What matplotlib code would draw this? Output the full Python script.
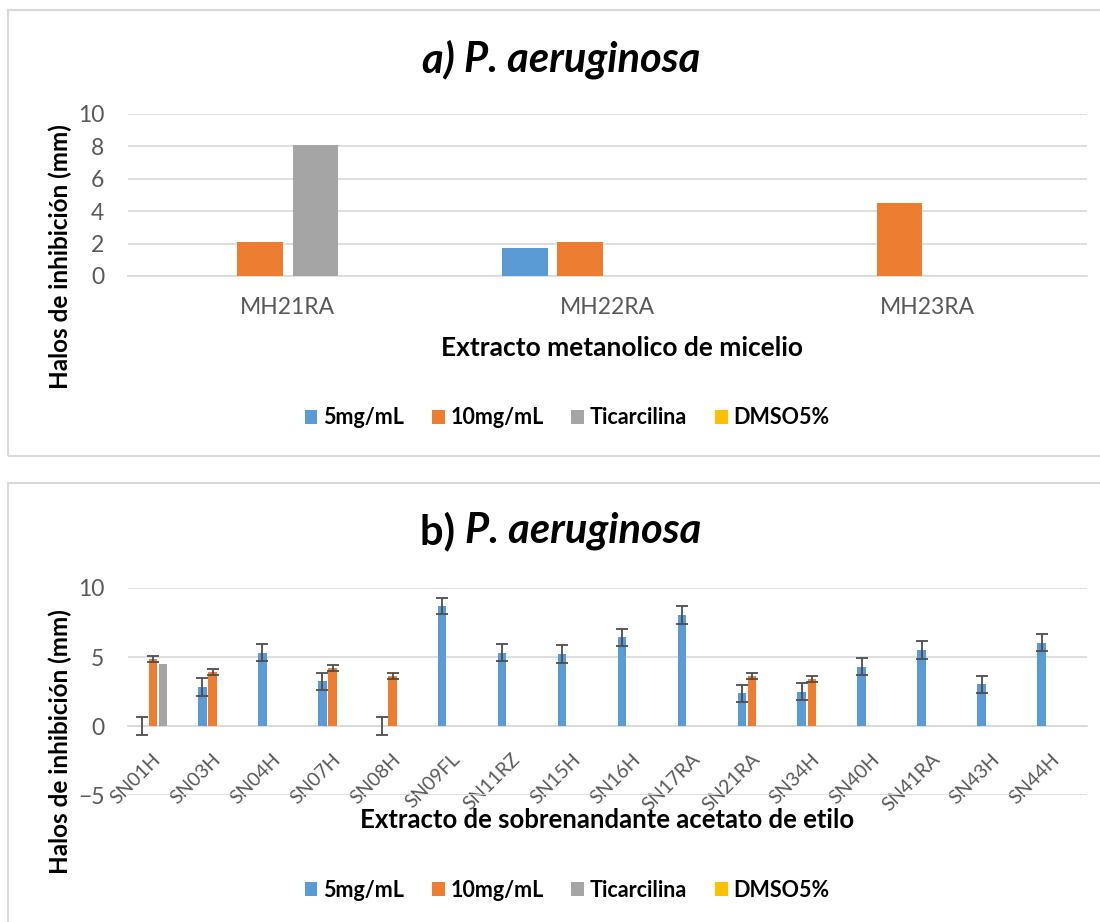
import numpy as np
import matplotlib
matplotlib.use("Agg")
import matplotlib.pyplot as plt
from matplotlib.patches import Rectangle, Patch

plt.rcParams['font.family'] = ['Lato', 'DejaVu Sans']

# --- data ---
series_names = ["5mg/mL", "10mg/mL", "Ticarcilina", "DMSO5%"]
colors = ["#5B9BD5", "#ED7D31", "#A5A5A5", "#FFC000"]

top_cats = ["MH21RA", "MH22RA", "MH23RA"]
top_5mg = [0, 1.75, 0]
top_10mg = [2.1, 2.1, 4.5]
top_tic = [8.1, 0, 0]
top_dmso = [0, 0, 0]

bot_cats = ["SN01H", "SN03H", "SN04H", "SN07H", "SN08H", "SN09FL", "SN11RZ", "SN15H",
            "SN16H", "SN17RA", "SN21RA", "SN34H", "SN40H", "SN41RA", "SN43H", "SN44H"]
bot_5mg = [0, 2.82, 5.32, 3.23, 0, 8.7, 5.32, 5.23, 6.43, 8.05, 2.36, 2.48, 4.31, 5.52, 3.01, 6.03]
bot_5mg_err = [0.63, 0.64, 0.64, 0.63, 0.63, 0.61, 0.64, 0.63, 0.63, 0.63, 0.63, 0.63, 0.63, 0.64, 0.64, 0.63]
bot_10mg = [4.85, 3.9, 0, 4.19, 3.64, 0, 0, 0, 0, 0, 3.64, 3.42, 0, 0, 0, 0]
bot_10mg_err = [0.2, 0.22, None, 0.22, 0.22, None, None, None, None, None, 0.22, 0.22, None, None, None, None]
bot_tic = [4.5, 0, 0, 0, 0, 0, 0, 0, 0, 0, 0, 0, 0, 0, 0, 0]
bot_dmso = [0] * 16

W, H = 1100, 922
fig = plt.figure(figsize=(W / 100, H / 100), dpi=100)

def fx(px):
    return px / W

def fy(py):
    return 1 - py / H

# panel borders
for y0, y1 in [(10, 456), (483, 940)]:
    fig.patches.append(Rectangle((fx(8), fy(y1)), fx(1110 - 8), (y1 - y0) / H,
                                 transform=fig.transFigure, fill=False,
                                 edgecolor="#D9D9D9", lw=1.5))

grid_c = "#D9D9D9"
tick_c = "#595959"
slot = 0.1725
bw = 0.143
tick_fs = 16.5
lab_fs = 19


def bar_panel(ax, cats, vals, errs=None):
    x = np.arange(len(cats))
    for i, v in enumerate(vals):
        xs = x + (i - 1.5) * slot
        ax.bar(xs, v, width=bw, color=colors[i], zorder=3)
        if errs is not None and errs[i] is not None:
            e = errs[i]
            keep = [j for j in range(len(cats)) if e[j] is not None]
            ax.errorbar(xs[keep], np.array(v)[keep], yerr=np.array([e[j] for j in keep]),
                        fmt="none", ecolor="#4D4D4D", elinewidth=1.3, capsize=4.5,
                        capthick=1.3, zorder=4)
    ax.set_xlim(-0.5, len(cats) - 0.5)
    ax.set_xticks(x)
    for s in ["top", "right", "left"]:
        ax.spines[s].set_visible(False)
    ax.spines["bottom"].set_color(grid_c)
    ax.spines["bottom"].set_linewidth(1.2)
    ax.yaxis.grid(True, color=grid_c, lw=1.2, zorder=0)
    ax.set_axisbelow(True)
    ax.tick_params(axis="both", length=0, colors=tick_c, labelsize=tick_fs)


# --- a) ---
ax1 = fig.add_axes([fx(128), fy(276), fx(1087 - 128), (276 - 114) / H])
bar_panel(ax1, top_cats, [top_5mg, top_10mg, top_tic, top_dmso])
ax1.set_ylim(0, 10)
ax1.set_yticks([0, 2, 4, 6, 8, 10])
ax1.set_xticklabels(top_cats)
ax1.tick_params(axis="x", pad=15)
ax1.tick_params(axis="y", pad=17)

# --- b) ---
ax2 = fig.add_axes([fx(128), fy(795), fx(1087 - 128), (795 - 588) / H])
bar_panel(ax2, bot_cats, [bot_5mg, bot_10mg, bot_tic, bot_dmso],
          [bot_5mg_err, bot_10mg_err, None, None])
ax2.set_ylim(-5, 10)
ax2.set_yticks([-5, 0, 5, 10])
ax2.spines["bottom"].set_position(("data", 0))
ax2.set_xticklabels(bot_cats, rotation=45, ha="right", va="center",
                    rotation_mode="anchor", fontsize=14)
ax2.tick_params(axis="x", pad=22)
ax2.tick_params(axis="y", pad=17)

# axis titles
fig.text(fx(622), fy(348), "Extracto metanolico de micelio", ha="center", va="center",
         fontsize=lab_fs, fontweight="bold")
fig.text(fx(607), fy(820), "Extracto de sobrenandante acetato de etilo", ha="center",
         va="center", fontsize=18.5, fontweight="bold")
fig.text(fx(60), fy(257), "Halos de inhibición (mm)", rotation=90, ha="center",
         va="center", fontsize=17.5, fontweight="bold")
fig.text(fx(60), fy(742), "Halos de inhibición (mm)", rotation=90, ha="center",
         va="center", fontsize=17.5, fontweight="bold")

# titles: two parts, centred together
fig.canvas.draw()
rend = fig.canvas.get_renderer()


def two_part_title(cx, cy, first, first_style, second):
    t1 = fig.text(0, fy(cy), first, fontsize=30, fontweight="bold", fontstyle=first_style,
                  va="center", ha="left")
    t2 = fig.text(0, fy(cy), second, fontsize=30, fontweight="bold", fontstyle="italic",
                  va="center", ha="left")
    w1 = t1.get_window_extent(rend).width
    w2 = t2.get_window_extent(rend).width
    start = cx - (w1 + w2) / 2
    t1.set_x(fx(start))
    t2.set_x(fx(start + w1))


two_part_title(561, 60, "a) ", "italic", "P. aeruginosa")
two_part_title(561, 531, "b) ", "normal", "P. aeruginosa")

# legends
handles = [Patch(facecolor=c) for c in colors]
for ly in [418, 890]:
    fig.legend(handles, series_names, loc="center", bbox_to_anchor=(fx(567), fy(ly)),
               ncol=4, frameon=False, handlelength=0.6, handleheight=0.6,
               handletextpad=0.25, columnspacing=1.3,
               prop={"weight": "bold", "size": 15.5})

fig.savefig("out.png", dpi=100)
